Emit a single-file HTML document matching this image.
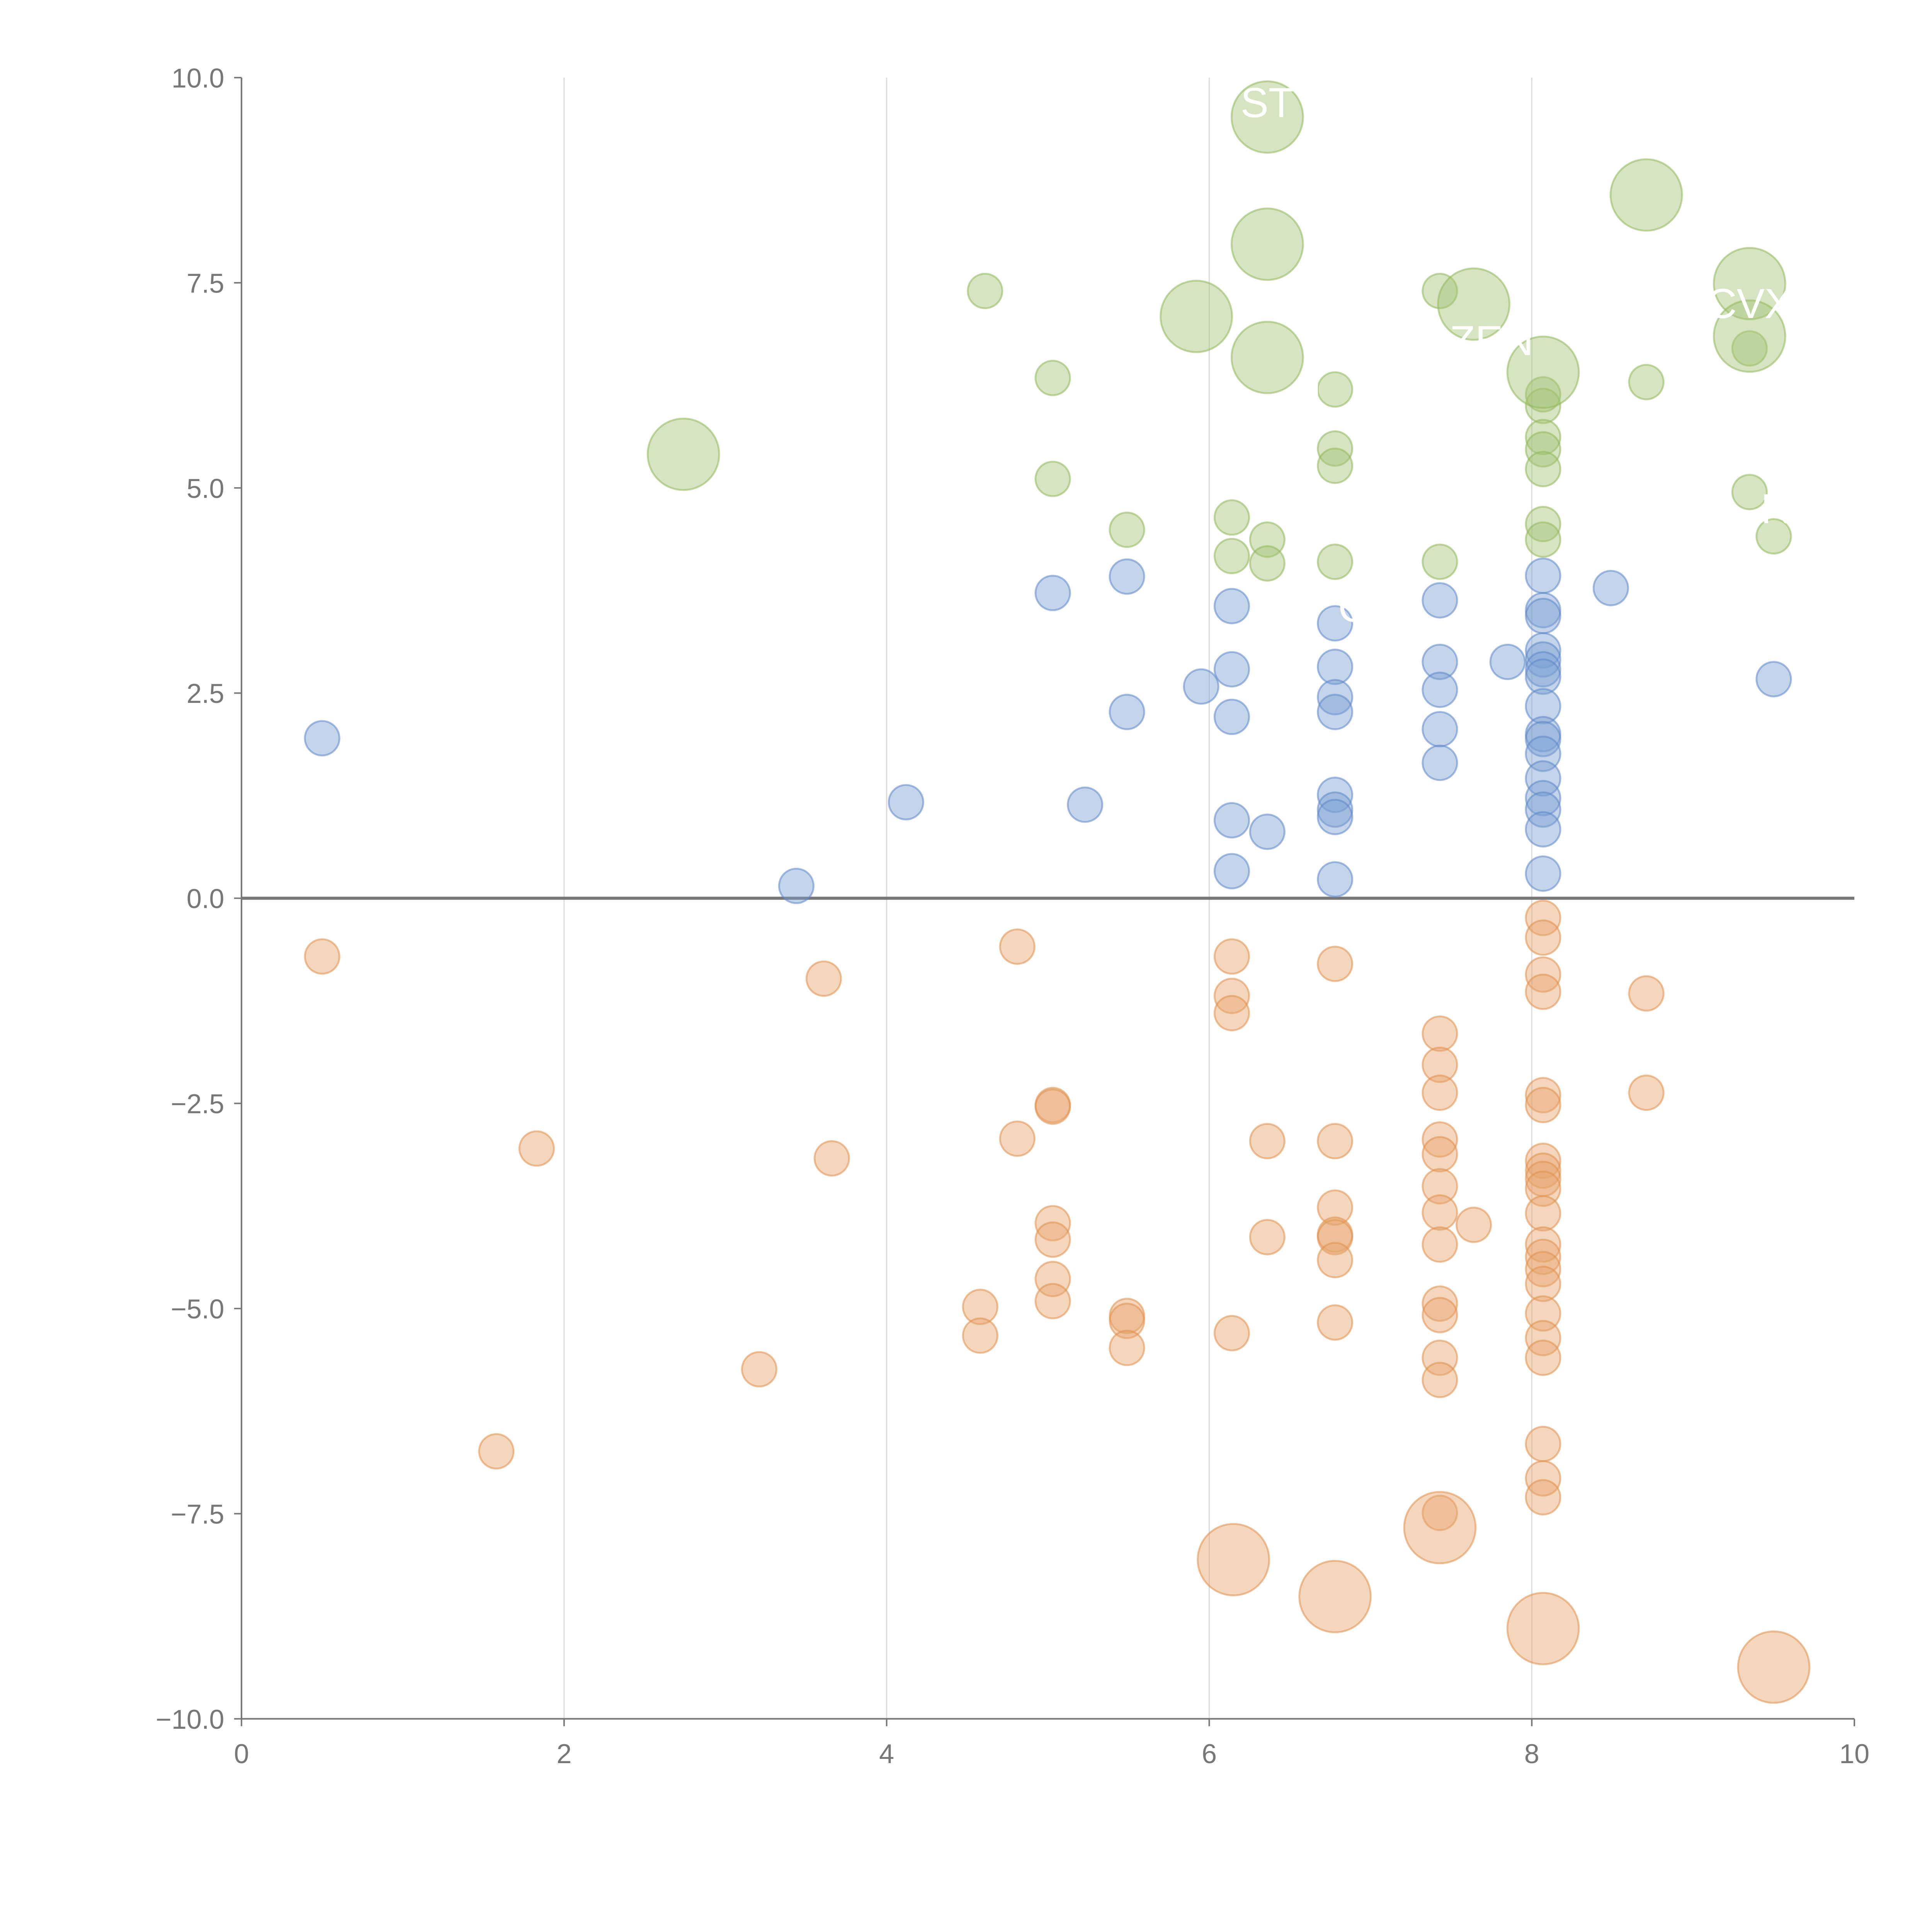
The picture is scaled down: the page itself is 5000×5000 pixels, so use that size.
<!DOCTYPE html>
<html><head><meta charset="utf-8"><style>
html,body{margin:0;padding:0;background:#fff;}
svg{display:block;font-family:"Liberation Sans",sans-serif;}
</style></head><body>
<svg id="chart" width="5000" height="5000" viewBox="0 0 1568 1568" xmlns="http://www.w3.org/2000/svg">
<g id="grid"></g>
<g id="axes"></g>
<g id="marks"></g>
<g id="labels"></g>
</svg>
<script>
const xTicks=[0,2,4,6,8,10];
const yTicks=[-10,-7.5,-5,-2.5,0,2.5,5,7.5,10];
const blueX=[0.50,3.44,4.12,5.03,5.23,5.49,5.49,5.95,6.14,6.14,6.14,6.14,6.14,6.36,6.78,6.78,6.78,6.78,6.78,6.78,6.78,6.78,7.43,7.43,7.43,7.43,7.43,7.85,8.07,8.07,8.07,8.07,8.07,8.07,8.07,8.07,8.07,8.07,8.07,8.07,8.07,8.07,8.07,8.07,8.49,9.50];
const blueY=[1.95,0.15,1.17,3.72,1.14,3.92,2.27,2.58,3.56,2.79,2.21,0.95,0.33,0.81,3.35,2.82,2.45,2.27,1.26,1.08,0.99,0.23,3.63,2.88,2.54,2.06,1.65,2.88,3.93,3.51,3.44,3.02,2.91,2.79,2.70,2.34,2.00,1.94,1.76,1.46,1.22,1.08,0.84,0.30,3.78,2.67];
const greenX=[4.61,5.03,5.03,5.49,6.14,6.14,6.36,6.36,6.78,6.78,6.78,6.78,7.43,7.43,8.07,8.07,8.07,8.07,8.07,8.07,8.07,8.71,9.35,9.35,9.50,2.74,5.92,6.36,6.36,6.36,7.64,8.07,8.71,9.35,9.35];
const greenY=[7.40,6.34,5.11,4.49,4.64,4.17,4.37,4.08,6.20,5.48,5.27,4.10,7.40,4.10,6.14,6.00,5.62,5.47,5.23,4.56,4.37,6.29,6.70,4.95,4.41,5.41,7.09,9.52,7.97,6.59,7.24,6.41,8.57,7.49,6.85];
const greenBig=[0,0,0,0,0,0,0,0,0,0,0,0,0,0,0,0,0,0,0,0,0,0,0,0,0,1,1,1,1,1,1,1,1,1,1];
const orangeX=[0.50,1.58,1.83,3.21,3.61,3.66,4.58,4.58,4.81,4.81,5.03,5.03,5.03,5.03,5.03,5.03,5.49,5.49,5.49,6.14,6.14,6.14,6.14,6.36,6.36,6.78,6.78,6.78,6.78,6.78,6.78,6.78,7.43,7.43,7.43,7.43,7.43,7.43,7.43,7.43,7.43,7.43,7.43,7.43,7.43,7.64,8.07,8.07,8.07,8.07,8.07,8.07,8.07,8.07,8.07,8.07,8.07,8.07,8.07,8.07,8.07,8.07,8.07,8.07,8.07,8.07,8.07,8.71,8.71,6.15,6.78,7.43,8.07,9.50];
const orangeY=[-0.71,-6.74,-3.05,-5.74,-0.98,-3.17,-4.98,-5.33,-0.59,-2.93,-2.52,-2.54,-3.96,-4.16,-4.64,-4.91,-5.09,-5.15,-5.48,-0.71,-1.19,-1.40,-5.30,-2.96,-4.13,-0.80,-2.96,-3.77,-4.10,-4.13,-4.41,-5.17,-1.65,-2.03,-2.37,-2.94,-3.12,-3.51,-3.83,-4.22,-4.94,-5.08,-5.60,-5.87,-7.49,-3.98,-0.24,-0.48,-0.93,-1.14,-2.40,-2.52,-3.20,-3.32,-3.42,-3.54,-3.84,-4.22,-4.37,-4.52,-4.70,-5.06,-5.36,-5.60,-6.65,-7.07,-7.30,-1.16,-2.37,-8.06,-8.51,-7.67,-8.90,-9.37];
const orangeBig=[0,0,0,0,0,0,0,0,0,0,0,0,0,0,0,0,0,0,0,0,0,0,0,0,0,0,0,0,0,0,0,0,0,0,0,0,0,0,0,0,0,0,0,0,0,0,0,0,0,0,0,0,0,0,0,0,0,0,0,0,0,0,0,0,0,0,0,0,0,1,1,1,1,1];

const X0=196,X1=1505,Y0=1395,Y1=63;
function sx(v){return X0+(v-0)/(10-0)*(X1-X0);}
function sy(v){return Y0-(v+10)/20*(Y0-Y1);}
const NS="http://www.w3.org/2000/svg";
function mk(tag,attrs,parent){const e=document.createElementNS(NS,tag);for(const k in attrs)e.setAttribute(k,attrs[k]);parent.appendChild(e);return e;}
const grid=document.getElementById('grid'),axes=document.getElementById('axes'),marks=document.getElementById('marks'),labels=document.getElementById('labels');

xTicks.forEach(t=>{
  if(t>0&&t<10){const g=mk('line',{x1:sx(t),x2:sx(t),y1:Y1,y2:Y0,stroke:'#dcdcdc','stroke-width':1},grid);
  
  }
  const tk=mk('line',{x1:sx(t),x2:sx(t),y1:Y0,y2:Y0+6,stroke:'#777','stroke-width':1.2},axes);
  
  
  const tx=mk('text',{x:sx(t),y:Y0+36,'text-anchor':'middle','font-size':22,fill:'#777'},axes);
  tx.textContent=String(t);
  
  
});
yTicks.forEach(t=>{
  const tk=mk('line',{x1:X0-6,x2:X0,y1:sy(t),y2:sy(t),stroke:'#777','stroke-width':1.2},axes);
  
  
  const tx=mk('text',{x:X0-14,y:sy(t)+8,'text-anchor':'end','font-size':22,fill:'#777'},axes);
  tx.textContent=(t<0?'\u2212'+Math.abs(t).toFixed(1):t.toFixed(1));
  
  
});
const ya=mk('line',{x1:X0,x2:X0,y1:Y1,y2:Y0,stroke:'#777','stroke-width':1.3},axes);


const xa=mk('line',{x1:X0,x2:X1,y1:Y0,y2:Y0,stroke:'#777','stroke-width':1.3},axes);


const zl=mk('line',{x1:X0,x2:X1,y1:sy(0),y2:sy(0),stroke:'#777','stroke-width':2.5},axes);



function series(xs,ys,bigs,fill,stroke,name){
  xs.forEach((x,i)=>{
    const r=bigs&&bigs[i]?29:14;
    const c=mk('circle',{cx:sx(x),cy:sy(ys[i]),r:r,fill:fill,'fill-opacity':0.45,stroke:stroke,'stroke-opacity':0.55,'stroke-width':1.5},marks);
    
    
  });
}
series(greenX,greenY,greenBig,'#a5c476','#8fb85a','green-point');
series(blueX,blueY,null,'#7b9fd3','#5c87c8','blue-point');
series(orangeX,orangeY,orangeBig,'#e7a56c','#e0904a','orange-point');

const lblT=['ST','CVX','ZEN','RX','G','U'];
const lblX=[6.36,9.35,7.75,9.6,6.9,6.6];
const lblY=[9.7,7.25,6.8,4.75,3.55,6.1];
lblT.forEach((t,i)=>{
  const tx=mk('text',{x:sx(lblX[i]),y:sy(lblY[i])+12,'text-anchor':'middle','font-size':34,fill:'#fff'},labels);
  tx.textContent=t;
  
  
});
</script>
</body></html>
